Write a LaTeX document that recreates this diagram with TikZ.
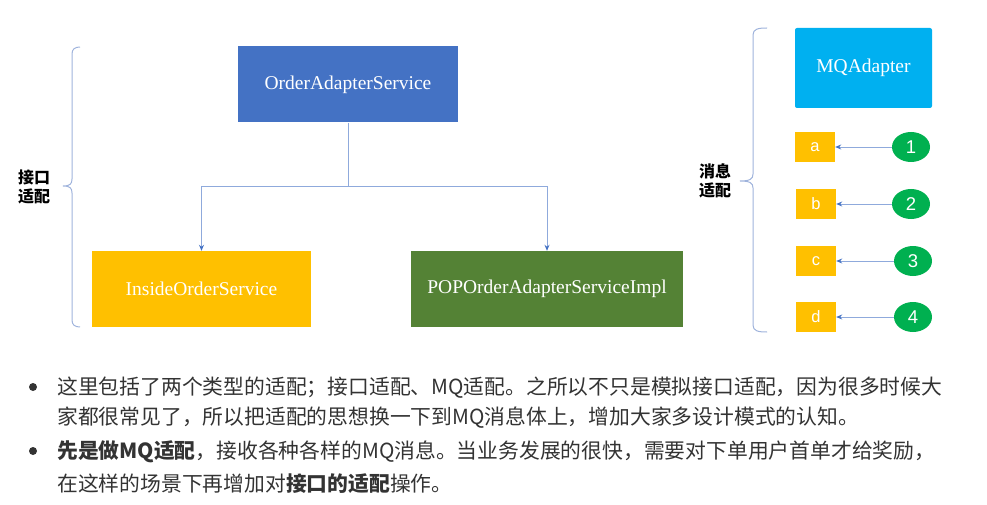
\documentclass[tikz,border=0pt]{standalone}
\usepackage{fontspec}
\setmainfont{Liberation Serif}
\setsansfont{Liberation Sans}
\newfontfamily\cjk{Noto Sans CJK SC}
\usetikzlibrary{arrows.meta,shapes.geometric}
\definecolor{cblue}{HTML}{4472C4}
\definecolor{cyellow}{HTML}{FFC000}
\definecolor{cgreen}{HTML}{548235}
\definecolor{csky}{HTML}{00B0F0}
\definecolor{cgreen2}{HTML}{00B050}
\definecolor{cline}{HTML}{8FAADC}
\definecolor{cbrace}{HTML}{9FB3DC}
\definecolor{ctext}{HTML}{333333}
\tikzset{
  bigbox/.style={draw=none, minimum height=76pt, inner sep=0pt, text=white, font=\fontsize{19.5}{22}\selectfont},
  smallbox/.style={fill=cyellow, minimum width=40pt, minimum height=30pt, inner sep=0pt, text=white, font=\sffamily\fontsize{16.5}{18}\selectfont},
  numc/.style={ellipse, fill=cgreen2, minimum width=38pt, minimum height=30pt, inner sep=0pt, text=white, font=\sffamily\fontsize{18.5}{20}\selectfont},
  conn/.style={draw=cline, line width=0.9pt, -{Stealth[length=6pt,width=5pt,color=cblue]}},
  plainconn/.style={draw=cline, line width=0.9pt},
  brace/.style={draw=cbrace, line width=1pt},
  side/.style={font=\cjk\bfseries\fontsize{16}{20}\selectfont, text=black, align=left, inner sep=0pt},
  para/.style={anchor=base west, inner sep=0pt, text=ctext, font=\cjk\fontsize{20.8}{24}\selectfont},
  dot/.style={circle, fill=ctext, minimum size=8pt, inner sep=0pt}
}
\begin{document}
\begin{tikzpicture}[x=1pt,y=-1pt]
\useasboundingbox (0,0) rectangle (987,505);
% interface adaptation
\node[bigbox, fill=cblue, minimum width=220pt] (oas) at (348,84.5) {OrderAdapterService};
\node[bigbox, fill=cyellow, minimum width=219pt] (ios) at (201.5,289) {InsideOrderService};
\node[bigbox, fill=cgreen, minimum width=272pt] (pop) at (547,289) {POPOrderAdapterServiceImpl};
\coordinate (j) at (348,186);
\draw[plainconn] (oas.south) -- (j);
\draw[conn] (j) -| (ios.north);
\draw[conn] (j) -| (pop.north);
% left brace
\draw[brace] (80,47) .. controls (75,47) and (72,49) .. (72,54) -- (72,179) .. controls (72,184) and (70,186) .. (63,186) .. controls (70,186) and (72,188) .. (72,193) -- (72,320) .. controls (72,325) and (75,327) .. (80,327);
\node[side] (lab1) at (34,187) {接口\\[-1pt]适配};
% message adaptation
\node[fill=csky, rounded corners=2pt, minimum width=137pt, minimum height=80pt, inner sep=0pt, text=white, font=\fontsize{19.5}{22}\selectfont] (mq) at (863.5,68) {MQAdapter};
\node[smallbox] (a) at (815,147) {a};
\node[smallbox] (b) at (816,204) {b};
\node[smallbox] (c) at (816,261) {c};
\node[smallbox] (d) at (816,317) {d};
\node[numc] (n1) at (911,147) {1};
\node[numc] (n2) at (911,204) {2};
\node[numc] (n3) at (913,261) {3};
\node[numc] (n4) at (913,317) {4};
\draw[conn] (n1.west) -- (a.east);
\draw[conn] (n2.west) -- (b.east);
\draw[conn] (n3.west) -- (c.east);
\draw[conn] (n4.west) -- (d.east);
\draw[brace] (767,28) .. controls (758,28) and (753,29) .. (753,35) -- (753,174) .. controls (753,179) and (750,181) .. (740,181) .. controls (750,181) and (753,183) .. (753,188) -- (753,325) .. controls (753,331) and (758,332) .. (767,332);
\node[side] (lab2) at (715,181) {消息\\[-1pt]适配};
% bullets
\node[dot] (b1) at (33,387) {};
\node[dot] (b2) at (33,451) {};
\node[para] (l1) at (57,394) {这里包括了两个类型的适配；接口适配、MQ适配。之所以不只是模拟接口适配，因为很多时候大};
\node[para] (l2) at (57,424) {家都很常见了，所以把适配的思想换一下到MQ消息体上，增加大家多设计模式的认知。};
\node[para] (l3) at (57,458) {\textbf{先是做MQ适配}，接收各种各样的MQ消息。当业务发展的很快，需要对下单用户首单才给奖励，};
\node[para] (l4) at (57,491) {在这样的场景下再增加对\textbf{接口的适配}操作。};
\end{tikzpicture}
\end{document}
